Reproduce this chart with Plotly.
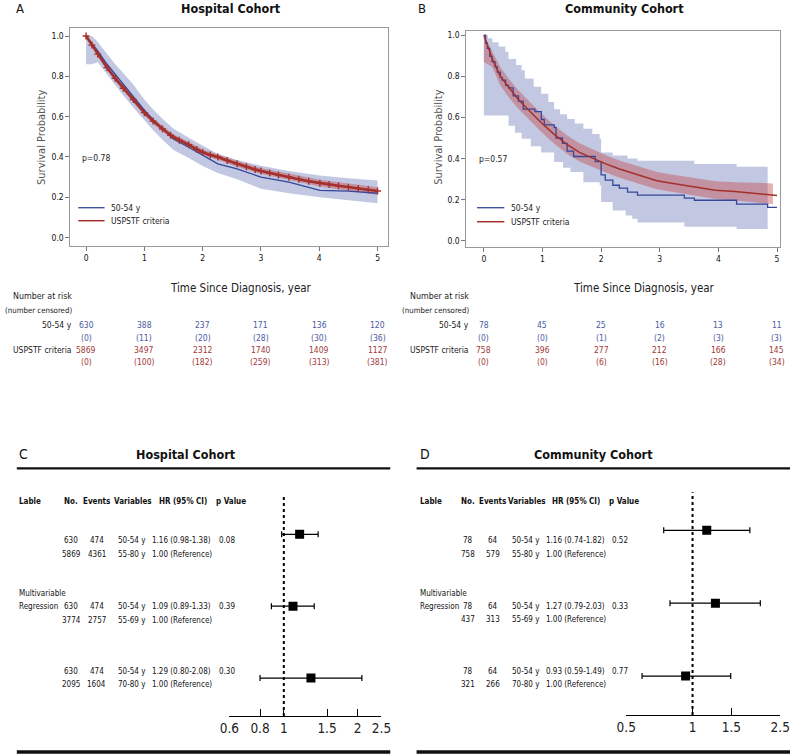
import math
import plotly.graph_objects as go

# ---------------- data: Panel A (Hospital cohort KM) ----------------
hosp_red_t = [0, 0.1, 0.2, 0.36, 0.5, 0.64, 0.81, 1.0, 1.15, 1.31, 1.45, 1.6, 1.76, 1.9, 2.0, 2.13,
              2.26, 2.42, 2.59, 2.75, 2.9, 3.0, 3.15, 3.3, 3.48, 3.65, 3.82, 4.01, 4.17, 4.33, 4.5,
              4.67, 4.84, 5.0]
hosp_red_s = [1.0, 0.955, 0.91, 0.843, 0.79, 0.741, 0.685, 0.62, 0.578, 0.539, 0.508, 0.483, 0.461,
              0.437, 0.423, 0.41, 0.40, 0.383, 0.366, 0.352, 0.338, 0.33, 0.32, 0.31, 0.30, 0.29,
              0.28, 0.27, 0.264, 0.257, 0.25, 0.243, 0.237, 0.231]
hosp_blue_t = [0, 0.1, 0.2, 0.36, 0.5, 0.64, 0.81, 1.0, 1.15, 1.31, 1.5, 1.76, 2.0, 2.26, 2.59, 3.0,
               3.48, 4.01, 4.5, 5.0]
hosp_blue_s = [1.0, 0.965, 0.926, 0.86, 0.81, 0.762, 0.705, 0.632, 0.585, 0.539, 0.489, 0.448, 0.407,
               0.366, 0.341, 0.30, 0.275, 0.234, 0.231, 0.22]
hosp_band_t = [0, 0.1, 0.2, 0.36, 0.5, 0.64, 0.81, 1.0, 1.15, 1.31, 1.5, 1.76, 2.0, 2.26, 2.59, 3.0,
               3.48, 4.01, 4.5, 5.0]
hosp_blue_hi = [1.0, 1.0, 0.97, 0.91, 0.86, 0.815, 0.76, 0.685, 0.635, 0.59, 0.54, 0.495, 0.455,
                0.415, 0.385, 0.357, 0.33, 0.308, 0.295, 0.283]
hosp_blue_lo = [0.86, 0.86, 0.87, 0.81, 0.755, 0.705, 0.645, 0.58, 0.532, 0.485, 0.435, 0.395,
                0.355, 0.32, 0.29, 0.242, 0.22, 0.20, 0.185, 0.171]
hosp_red_hi = [1.0, 0.965, 0.922, 0.856, 0.803, 0.755, 0.699, 0.634, 0.592, 0.553, 0.511, 0.475,
               0.437, 0.414, 0.381, 0.345, 0.316, 0.287, 0.268, 0.25]
hosp_red_lo = [1.0, 0.945, 0.898, 0.83, 0.777, 0.727, 0.671, 0.606, 0.564, 0.525, 0.483, 0.447,
               0.409, 0.386, 0.351, 0.315, 0.284, 0.253, 0.232, 0.212]

# ---------------- data: Panel B (Community cohort KM) ----------------
comm_red_t = [0, 0.144, 0.28, 0.42, 0.58, 0.75, 0.97, 1.19, 1.41, 1.63, 1.86, 2.08, 2.3, 2.5, 2.75,
              2.95, 3.2, 3.5, 3.75, 3.95, 4.28, 4.5, 4.72, 5.0]
comm_red_s = [1.0, 0.885, 0.80, 0.747, 0.69, 0.64, 0.577, 0.52, 0.47, 0.43, 0.40, 0.374, 0.35,
              0.332, 0.31, 0.292, 0.28, 0.267, 0.255, 0.246, 0.24, 0.233, 0.227, 0.22]
comm_red_band_t = [0, 0.144, 0.28, 0.42, 0.58, 0.75, 0.97, 1.19, 1.41, 1.63, 1.86, 2.08, 2.3, 2.5,
                   2.75, 2.95, 3.2, 3.5, 3.75, 3.95, 4.28, 4.5, 4.72, 4.93]
comm_red_hi = [1.0, 0.92, 0.845, 0.79, 0.735, 0.685, 0.622, 0.565, 0.515, 0.475, 0.443, 0.416,
               0.392, 0.374, 0.352, 0.335, 0.322, 0.31, 0.298, 0.29, 0.285, 0.282, 0.28, 0.279]
comm_red_lo = [0.87, 0.845, 0.755, 0.70, 0.645, 0.595, 0.532, 0.475, 0.425, 0.385, 0.357, 0.332,
               0.308, 0.29, 0.268, 0.25, 0.238, 0.225, 0.213, 0.203, 0.196, 0.19, 0.185, 0.178]
comm_blue_t = [0, 0.03, 0.06, 0.1, 0.14, 0.19, 0.23, 0.28, 0.31, 0.37, 0.42, 0.5, 0.59, 0.67, 0.87,
               0.98, 1.03, 1.2, 1.23, 1.34, 1.42, 1.53, 1.9, 2.0, 2.07, 2.2, 2.31, 2.45, 2.62, 3.42,
               3.59, 4.31, 4.84, 5.0]
comm_blue_s = [1.0, 0.962, 0.936, 0.897, 0.872, 0.846, 0.821, 0.795, 0.782, 0.756, 0.744, 0.705,
               0.679, 0.641, 0.628, 0.59, 0.564, 0.551, 0.5, 0.474, 0.436, 0.41, 0.385, 0.32, 0.295,
               0.27, 0.256, 0.237, 0.222, 0.207, 0.197, 0.178, 0.162, 0.162]
comm_blue_hi_t = [0, 0.07, 0.144, 0.25, 0.366, 0.42, 0.55, 0.643, 0.699, 0.85, 0.976, 1.1, 1.198,
                  1.3, 1.42, 1.55, 1.697, 1.85, 1.974, 2.0, 2.196, 2.45, 2.62, 3.59, 4.31, 4.84]
comm_blue_hi = [1.0, 0.985, 0.966, 0.945, 0.92, 0.885, 0.855, 0.83, 0.79, 0.75, 0.715, 0.675, 0.64,
                0.615, 0.593, 0.57, 0.545, 0.52, 0.496, 0.43, 0.415, 0.40, 0.389, 0.373, 0.36, 0.36]
comm_blue_lo_t = [0, 0.366, 0.42, 0.53, 0.643, 0.8, 0.976, 1.198, 1.35, 1.475, 1.697, 1.974, 2.0,
                  2.196, 2.418, 2.53, 2.62, 3.42, 3.59, 4.31, 4.84]
comm_blue_lo = [0.61, 0.61, 0.56, 0.525, 0.496, 0.46, 0.43, 0.383, 0.355, 0.334, 0.285, 0.27, 0.188,
                0.147, 0.123, 0.107, 0.089, 0.068, 0.068, 0.057, 0.057]

# ---------------- data: numbers at risk ----------------
risk_times = [0, 1, 2, 3, 4, 5]
hosp_risk_young = [630, 388, 237, 171, 136, 120]
hosp_cens_young = [0, 11, 20, 28, 30, 36]
hosp_risk_usp = [5869, 3497, 2312, 1740, 1409, 1127]
hosp_cens_usp = [0, 100, 182, 259, 313, 381]
comm_risk_young = [78, 45, 25, 16, 13, 11]
comm_cens_young = [0, 0, 1, 2, 3, 3]
comm_risk_usp = [758, 396, 277, 212, 166, 145]
comm_cens_usp = [0, 0, 6, 16, 28, 34]
hosp_p = "p=0.78"
comm_p = "p=0.57"

# ---------------- data: forest plots ----------------
forest_rows = ["Unadjusted", "Adjusted 55-69", "Adjusted 70-80"]
hosp_hr = [1.16, 1.09, 1.29]
hosp_lo = [0.98, 0.89, 0.80]
hosp_hi = [1.38, 1.33, 2.08]
hosp_no = [(630, 5869), (630, 3774), (630, 2095)]
hosp_ev = [(474, 4361), (474, 2757), (474, 1604)]
hosp_pv = ["0.08", "0.39", "0.30"]
comm_hr = [1.16, 1.27, 0.93]
comm_lo = [0.74, 0.79, 0.59]
comm_hi = [1.82, 2.03, 1.49]
comm_no = [(78, 758), (78, 437), (78, 321)]
comm_ev = [(64, 579), (64, 313), (64, 266)]
comm_pv = ["0.52", "0.33", "0.77"]
forest_vars = [("50-54 y", "55-80 y"), ("50-54 y", "55-69 y"), ("50-54 y", "70-80 y")]
hosp_ticks = [0.6, 0.8, 1, 1.5, 2, 2.5]
comm_ticks = [0.5, 1, 1.5, 2.5]

# ---------------- styling ----------------
W, H = 800, 754
FONT = "DejaVu Sans Condensed, Liberation Sans Narrow, sans-serif"
BLUE = "#34479a"
RED = "#a4302c"
BLUE_BAND = "rgba(110,125,185,0.42)"
RED_BAND = "rgba(196,80,85,0.45)"
BLUE_TXT = "#4a5aa0"
RED_TXT = "#a03838"
TS = 8          # forest table text size
RS = 8.5        # risk table text size


def X(px):
    return px / W


def Y(py):
    return 1 - py / H


fig = go.Figure()
annotations = []
shapes = []


def ann(text, x, y, size=10, color="#111", xanchor="center", bold=False, angle=0):
    if bold:
        text = "<b>" + text + "</b>"
    annotations.append(dict(text=text, x=X(x), y=Y(y), xref="paper", yref="paper",
                            showarrow=False, xanchor=xanchor, yanchor="middle", textangle=angle,
                            font=dict(family=FONT, size=size, color=color)))


def hline(x0, x1, y, color, width, dash="solid"):
    shapes.append(dict(type="line", xref="paper", yref="paper", x0=X(x0), x1=X(x1), y0=Y(y), y1=Y(y),
                       line=dict(color=color, width=width, dash=dash)))


def band(t_hi, hi, t_lo, lo, color, xa, ya, shape):
    fig.add_trace(go.Scatter(x=t_hi, y=hi, mode="lines", line=dict(width=0, shape=shape),
                             xaxis=xa, yaxis=ya, hoverinfo="skip", showlegend=False))
    fig.add_trace(go.Scatter(x=t_lo, y=lo, mode="lines", line=dict(width=0, shape=shape),
                             fill="tonexty", fillcolor=color, xaxis=xa, yaxis=ya,
                             hoverinfo="skip", showlegend=False))


# ---- Panel A traces ----
band(hosp_band_t, hosp_blue_hi, hosp_band_t, hosp_blue_lo, BLUE_BAND, "x", "y", "linear")
band(hosp_band_t, hosp_red_hi, hosp_band_t, hosp_red_lo, RED_BAND, "x", "y", "linear")
fig.add_trace(go.Scatter(x=hosp_blue_t, y=hosp_blue_s, mode="lines", line=dict(color=BLUE, width=1.3),
                         xaxis="x", yaxis="y", showlegend=False))
fig.add_trace(go.Scatter(x=hosp_red_t, y=hosp_red_s, mode="lines+markers",
                         line=dict(color=RED, width=2.6),
                         marker=dict(symbol="cross-thin", size=5, line=dict(color=RED, width=1.4)),
                         xaxis="x", yaxis="y", showlegend=False))

# ---- Panel B traces ----
band(comm_blue_hi_t, comm_blue_hi, comm_blue_lo_t, comm_blue_lo, BLUE_BAND, "x2", "y2", "hv")
band(comm_red_band_t, comm_red_hi, comm_red_band_t, comm_red_lo, RED_BAND, "x2", "y2", "linear")
fig.add_trace(go.Scatter(x=comm_blue_t, y=comm_blue_s, mode="lines", line=dict(color=BLUE, width=1.3, shape="hv"),
                         xaxis="x2", yaxis="y2", showlegend=False))
fig.add_trace(go.Scatter(x=comm_red_t, y=comm_red_s, mode="lines", line=dict(color=RED, width=1.5),
                         xaxis="x2", yaxis="y2", showlegend=False))


# ---- forest traces ----
def forest(hr, lo, hi, xa, ya):
    fig.add_trace(go.Scatter(
        x=hr, y=forest_rows, mode="markers", xaxis=xa, yaxis=ya, showlegend=False,
        marker=dict(symbol="square", size=9, color="black"),
        error_x=dict(type="data", symmetric=False,
                     array=[h - v for v, h in zip(hr, hi)],
                     arrayminus=[v - l for v, l in zip(hr, lo)],
                     color="black", thickness=1.2, width=3)))


forest(hosp_hr, hosp_lo, hosp_hi, "x3", "y3")
forest(comm_hr, comm_lo, comm_hi, "x4", "y4")

# ---- axes ----
km_axis = dict(showline=True, mirror=True, linecolor="#9a9a9a", linewidth=1, ticks="outside",
               ticklen=4, tickcolor="#777", showgrid=False, zeroline=False,
               tickfont=dict(family=FONT, size=8.5, color="#111"))
layout_axes = dict(
    xaxis=dict(domain=[X(62), X(388)], range=[-0.268, 5.184], anchor="y", tickvals=risk_times, **km_axis),
    yaxis=dict(domain=[Y(245), Y(27)], range=[-0.04, 1.04], anchor="x",
               tickvals=[0, 0.2, 0.4, 0.6, 0.8, 1.0], tickformat=".1f", **km_axis),
    xaxis2=dict(domain=[X(468), X(790)], range=[-0.30, 5.055], anchor="y2", tickvals=risk_times, **km_axis),
    yaxis2=dict(domain=[Y(246), Y(30)], range=[-0.029, 1.021], anchor="x2",
                tickvals=[0, 0.2, 0.4, 0.6, 0.8, 1.0], tickformat=".1f", **km_axis),
)
fx = dict(type="log", showline=True, linecolor="black", linewidth=1.3, ticks="inside", ticklen=7,
          tickcolor="black", tickwidth=1.3, showgrid=False, zeroline=False,
          tickfont=dict(family=FONT, size=13.5, color="#222"))
layout_axes["xaxis3"] = dict(domain=[X(225), X(381)], range=[math.log10(0.6), math.log10(2.5)],
                             anchor="y3", tickvals=hosp_ticks, ticktext=[str(v) for v in hosp_ticks], **fx)
layout_axes["yaxis3"] = dict(domain=[Y(716), Y(490)], range=[2.528, -0.611], anchor="x3",
                             visible=False, type="category")
layout_axes["xaxis4"] = dict(domain=[X(632), X(790)], range=[math.log10(0.5), math.log10(2.5)],
                             anchor="y4", tickvals=comm_ticks, ticktext=[str(v) for v in comm_ticks], **fx)
layout_axes["yaxis4"] = dict(domain=[Y(715), Y(490)], range=[2.534, -0.548], anchor="x4",
                             visible=False, type="category")

# dotted reference lines at HR = 1
for xa, lo_t, hi_t, ytop, ybot in [("x3", 0.6, 2.5, 495, 716), ("x4", 0.5, 2.5, 492, 715)]:
    frac = (math.log10(1) - math.log10(lo_t)) / (math.log10(hi_t) - math.log10(lo_t))
    shapes.append(dict(type="line", xref=xa + " domain", yref="paper", x0=frac, x1=frac,
                       y0=Y(ybot), y1=Y(ytop), line=dict(color="black", width=2, dash="dot")))

# ---- titles / panel letters ----
ann("A", 10, 8, 13, "#111")
ann("Hospital Cohort", 227, 8, 12.5, "#111", bold=True)
ann("B", 423, 8, 13, "#111")
ann("Community Cohort", 630, 8, 12.5, "#111", bold=True)

# ---- KM annotations ----
ann("Survival Probability", 33, 137, 11, "#555", angle=-90)
ann("Survival Probability", 440, 137, 11, "#555", angle=-90)
ann(hosp_p, 72, 157, 8.5, "#222", xanchor="left")
ann(comm_p, 479, 158, 8.5, "#222", xanchor="left")

# in-plot legends
for (lx0, lx1, tx, y1, y2) in [(70, 97, 102, 207, 220), (479, 507, 512, 207, 221)]:
    hline(lx0, lx1, y1, BLUE, 1.3)
    hline(lx0, lx1, y2, RED, 1.5)
    ann("50-54 y", tx, y1, 8.5, "#222", xanchor="left")
    ann("USPSTF criteria", tx, y2, 8.5, "#222", xanchor="left")


# ---- risk tables ----
def risk_table(x0px, pxyr, lab_right, title_x, ry, rc, uy, uc):
    ann("Time Since Diagnosis, year", title_x, 287, 11.5, "#222")
    ann("Number at risk", lab_right, 295, 8.8, "#222", xanchor="right")
    ann("(number censored)", lab_right, 310, 7.8, "#222", xanchor="right")
    ann("50-54 y", lab_right, 324, RS, "#222", xanchor="right")
    ann("USPSTF criteria", lab_right, 349, RS, "#222", xanchor="right")
    for t, a, b, c, d in zip(risk_times, ry, rc, uy, uc):
        xx = x0px + pxyr * t
        ann(str(a), xx, 324, RS, BLUE_TXT)
        ann("(%d)" % b, xx, 337, RS, BLUE_TXT)
        ann(str(c), xx, 349, RS, RED_TXT)
        ann("(%d)" % d, xx, 361, RS, RED_TXT)


risk_table(78, 59.8, 66, 237, hosp_risk_young, hosp_cens_young, hosp_risk_usp, hosp_cens_usp)
risk_table(486, 60.1, 473, 650, comm_risk_young, comm_cens_young, comm_risk_usp, comm_cens_usp)


# ---- forest tables ----
def forest_table(letter, title, letter_x, title_x, line_x0, cols, nos, evs, hrs, los, his, pvs, y1s, y2s):
    lx, cno, cev, cvar, chr_, cp = cols
    ann(letter, letter_x, 454, 14, "#111", xanchor="left")
    ann(title, title_x, 454, 12.5, "#111", bold=True)
    hline(line_x0, line_x0 + 383, 468, "#111", 2.2)
    hline(line_x0, line_x0 + 383, 752, "#111", 3.5)
    ann("Lable", lx, 501, TS, "#111", xanchor="left", bold=True)
    ann("No.", cno, 501, TS, "#111", bold=True)
    ann("Events", cev, 501, TS, "#111", bold=True)
    ann("Variables", cvar + 17, 501, TS, "#111", bold=True)
    ann("HR (95% CI)", chr_ + 33, 501, TS, "#111", bold=True)
    ann("p Value", cp + 15, 501, TS, "#111", bold=True)
    ann("Multivariable", lx, 593, TS, "#111", xanchor="left")
    ann("Regression", lx, 606, TS, "#111", xanchor="left")
    for i in range(3):
        ya, yb = y1s[i], y2s[i]
        ann(str(nos[i][0]), cno, ya, TS)
        ann(str(nos[i][1]), cno, yb, TS)
        ann(str(evs[i][0]), cev, ya, TS)
        ann(str(evs[i][1]), cev, yb, TS)
        ann(forest_vars[i][0], cvar, ya, TS, xanchor="left")
        ann(forest_vars[i][1], cvar, yb, TS, xanchor="left")
        ann("%.2f (%.2f-%.2f)" % (hrs[i], los[i], his[i]), chr_, ya, TS, xanchor="left")
        ann("1.00 (Reference)", chr_, yb, TS, xanchor="left")
        ann(pvs[i], cp, ya, TS, xanchor="left")


forest_table("C", "Hospital Cohort", 7, 180, 7, (7, 63, 89, 109, 144, 212), hosp_no, hosp_ev,
             hosp_hr, hosp_lo, hosp_hi, hosp_pv, [540, 606, 671], [554, 620, 684])
forest_table("D", "Community Cohort", 418, 598, 417, (418, 470, 495, 513, 548, 615), comm_no, comm_ev,
             comm_hr, comm_lo, comm_hi, comm_pv, [540, 606, 671], [554, 619, 684])

fig.update_layout(width=W, height=H, margin=dict(l=0, r=0, t=0, b=0), plot_bgcolor="white",
                  paper_bgcolor="white", showlegend=False, annotations=annotations, shapes=shapes,
                  font=dict(family=FONT), **layout_axes)

fig.write_html("out.html", config={"displayModeBar": False},
               post_script="document.body.style.margin='0';document.body.style.overflow='hidden';")
